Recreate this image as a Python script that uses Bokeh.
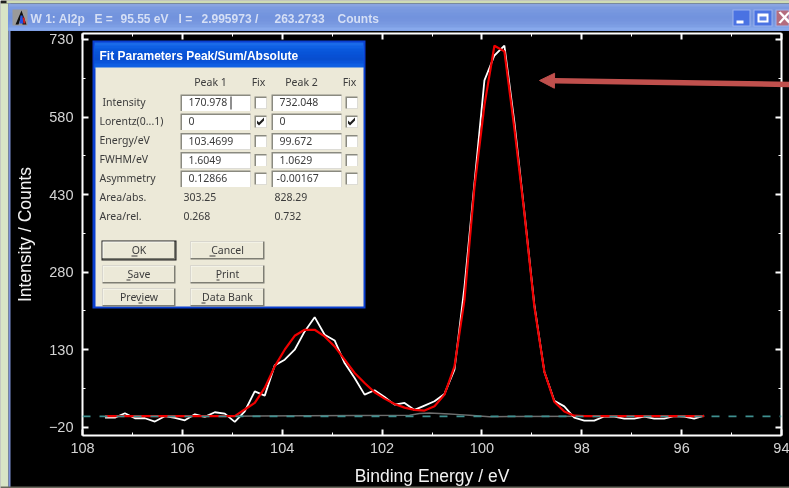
from bokeh.embed import file_html
from bokeh.resources import INLINE
from bokeh.plotting import figure
from bokeh.models import (Range1d, LinearAxis, FixedTicker, BoxAnnotation, Label,
                          PolyAnnotation, Arrow, NormalHead, Span)

# ---------- data ----------
energy = [round(107.55 - 0.2 * i, 2) for i in range(61)]
measured = [-1.7, -1.7, 6.7, -3, -3, -9.4, 1, -2.3, -6.9, 4.7, -0.4, 8.6, 6, -10, 10.5, 49.1,
            40.8, 99.3, 110.3, 129.6, 165, 192.6, 158.5, 147.6, 103.8, 74.9, 42.7, 51.1, 38.2,
            23.4, 26.6, 13.1, 21.5, 29.8, 44, 91, 251, 452, 651, 699, 718, 570, 396, 216, 87,
            31, 20, -2, -7.5, -7.5, 0.3, 0.3, -3.6, -3.6, 0.3, -3.6, -3.6, 1, 0.3, -3.6, 2]
fit = [1, 1, 1, 1, 1, 1, 1, 1, 1, 1, 1, 1, 1, 1, 14, 26.6, 55.6, 97.4, 129.6, 156.6, 168.2, 168.2,
       155.3, 136, 110.3, 84.5, 65.2, 47.2, 35, 24.7, 17.6, 13.1, 11.8, 20.2, 42.7, 97.4, 226,
       444, 603, 718, 707, 558, 394, 213, 87, 29, 10, 2, 1, 1, 1, 1, 1, 1, 1, 1, 1, 1, 1, 1, 1]
bg_x = [105.05, 101.45, 101.25, 101.05, 100.85, 100.65, 100.45, 100.25, 99.85, 97.75]
bg_y = [1, 3, 6, 7, 6, 5, 4, 3, 0, 1]
x_major = [108, 106, 104, 102, 100, 98, 96, 94]
x_minor = [107, 105, 103, 101, 99, 97, 95]
y_major = [-20, 130, 280, 430, 580, 730]
y_minor = [55, 205, 355, 505, 655]
x_title = "Binding Energy / eV"
y_title = "Intensity / Counts"

SANS = "Liberation Sans"
UI = "Noto Sans"

p = figure(width=789, height=488, output_backend="svg", toolbar_location=None,
           x_range=Range1d(108, 94), y_range=Range1d(-36.4, 741.6),
           min_border_left=82, min_border_right=8, min_border_top=33, min_border_bottom=52,
           background_fill_color="black", border_fill_color="black", outline_line_color=None)
p.styles = {"position": "fixed", "left": "0px", "top": "0px", "z-index": "1"}
p.grid.visible = False


def style_axis(ax, ticks, minor, labels=True):
    ax.ticker = FixedTicker(ticks=ticks, minor_ticks=minor)
    ax.axis_line_color = "white"
    ax.axis_line_width = 2
    ax.major_tick_line_color = "white"
    ax.minor_tick_line_color = "white"
    ax.major_tick_line_width = 2
    ax.minor_tick_line_width = 1
    ax.major_tick_in = 6
    ax.major_tick_out = 0
    ax.minor_tick_in = 3
    ax.minor_tick_out = 0
    if labels:
        ax.major_label_text_color = "#d4d4d4"
        ax.major_label_text_font = SANS
        ax.major_label_text_font_size = "14.5px"
    else:
        ax.major_label_overrides = {t: "" for t in ticks}
        ax.major_label_standoff = 0


style_axis(p.xaxis[0], x_major, x_minor)
style_axis(p.yaxis[0], y_major, y_minor)
p.xaxis[0].major_label_standoff = 7
p.yaxis[0].major_label_standoff = 9
p.xaxis[0].axis_label = x_title
p.yaxis[0].axis_label = y_title
for ax in (p.xaxis[0], p.yaxis[0]):
    ax.axis_label_text_color = "#f2f2f2"
    ax.axis_label_text_font = SANS
    ax.axis_label_text_font_size = "17.5px"
    ax.axis_label_text_font_style = "normal"
p.xaxis[0].axis_label_standoff = 10
p.yaxis[0].axis_label_standoff = 11
top = LinearAxis()
style_axis(top, x_major, x_minor, labels=False)
right = LinearAxis()
style_axis(right, y_major, y_minor, labels=False)
p.add_layout(top, "above")
p.add_layout(right, "right")

p.add_layout(Span(location=0.5, dimension="width", line_color="#3f9090", line_width=1.8, line_dash="8 9"))
p.line(bg_x, bg_y, line_color="#6e6e6e", line_width=1.5)
p.line(energy, measured, line_color="white", line_width=1.8)
p.line(energy, fit, line_color="#f00000", line_width=2.2)

# ---------- window and dialog furniture, on a transparent layer the size of the page ----------
o = figure(width=789, height=488, output_backend="svg", toolbar_location=None,
           x_range=Range1d(0, 789), y_range=Range1d(488, 0), min_border=0,
           x_axis_location=None, y_axis_location=None,
           background_fill_color=None, border_fill_color=None, outline_line_color=None)
o.styles = {"position": "fixed", "left": "0px", "top": "0px", "z-index": "5"}
o.grid.visible = False


def box(x0, y0, x1, y1, color):
    o.add_layout(BoxAnnotation(left=x0, right=x1, top=y0, bottom=y1, left_units="canvas",
                               right_units="canvas", top_units="canvas", bottom_units="canvas",
                               fill_color=color, fill_alpha=1, line_color=None))


def text(x, y, s, color="#3c3c3c", size="10.5px", font=UI, align="left", style="normal"):
    o.add_layout(Label(x=x, y=y - 1 if font == UI else y, x_units="canvas", y_units="canvas", text=s,
                       text_color=color, text_font=font, text_font_size=size, text_font_style=style,
                       text_align=align, text_baseline="middle"))


def poly(xs, ys, color):
    o.add_layout(PolyAnnotation(xs=xs, ys=ys, xs_units="canvas", ys_units="canvas",
                                fill_color=color, fill_alpha=1, line_color=None))


# outer window
box(0, 0, 789, 3, "#cfdcb4")
box(0, 0, 6, 3, "#202020")
box(0, 3, 8, 488, "#d8e4c6")
box(8, 3, 10, 488, "#7f94da")
for i, c in enumerate(["#8aa4e0", "#7d9be0", "#7898df", "#7495de", "#7293dd", "#7494de", "#7898e0", "#7d9ee4", "#88a9ec"]):
    box(8, 3 + i * 3, 789, 30, c)
box(0, 486, 789, 488, "#68685c")

# title bar icon and text
box(12, 9, 27, 25, "#9a9a9a")
poly([15, 21, 26, 22, 21, 18], [24, 10, 24, 24, 15, 24], "#101010")
poly([20, 22, 23, 19], [15, 15, 23, 23], "#2050e0")
poly([22, 24, 25, 23], [17, 17, 23, 23], "#d02020")
for x, s in [(30, "W 1: Al2p"), (94, "E ="), (120, "95.55 eV"), (178, "I ="), (201, "2.995973 /"),
             (274, "263.2733"), (337, "Counts")]:
    text(x, 18, s, color="#d5dff5", size="12px", font=SANS, style="bold")

# window buttons
for x0, x1, c in [(732, 750, "#4a72e2"), (753, 772, "#4a72e2"), (775, 789, "#b46c7e")]:
    box(x0, 9, x1, 26, "#9db4ee")
    box(x0 + 1, 10, x1 - 1, 25, c)
box(736, 20, 743, 23, "white")
box(757, 13, 768, 22, "white")
box(759, 16, 766, 20, "#5a80e6")
poly([778, 780, 789, 789, 787], [12, 11, 20, 23, 22], "white")
poly([778, 787, 789, 789, 780], [22, 12, 11, 13, 23], "white")

# arrow
o.add_layout(Arrow(x_start=789, y_start=84, x_end=539, y_end=80, start_units="canvas", end_units="canvas",
                   line_color="#c0504d", line_width=5.5,
                   end=NormalHead(size=15, fill_color="#c0504d", line_color="#c0504d", line_width=1)))

# dialog
box(92, 40, 365, 308, "#0a3fd0")
for i, c in enumerate(["#1a6ae8", "#0f60e4", "#0a58dc", "#0854d8", "#0850d4", "#084ecf", "#0a54da", "#0f5ee2", "#1264e6"]):
    box(94, 42 + i * 3, 363, 68, c)
box(95, 67, 363, 306, "#ece9d8")
text(99, 55, "Fit Parameters Peak/Sum/Absolute", color="white", size="12px", font=SANS, style="bold")

for x, s in [(210, "Peak 1"), (258, "Fix"), (301, "Peak 2"), (349, "Fix")]:
    text(x, 82.5, s, align="center")

rows_y = [102, 121, 140.5, 159.5, 178]
row_names = ["Intensity", "Lorentz(0...1)", "Energy/eV", "FWHM/eV", "Asymmetry"]
peak1_vals = ["170.978", "0", "103.4699", "1.6049", "0.12866"]
peak2_vals = ["732.048", "0", "99.672", "1.0629", "-0.00167"]
for y, name, v1, v2 in zip(rows_y, row_names, peak1_vals, peak2_vals):
    text(102 if name == "Intensity" else 99, y, name)
    for x0, val, xt in ((180, v1, 188), (271, v2, 276 if v2.startswith("-") else 279)):
        box(x0, y - 8, x0 + 70, y + 8.5, "#8a8a80")
        box(x0 + 1.5, y - 6.5, x0 + 70, y + 8.5, "white")
        text(xt, y + 0.5, val)
    for x0 in (254, 345):
        box(x0, y - 6, x0 + 12, y + 6, "#8a8a80")
        box(x0 + 1.5, y - 4.5, x0 + 12, y + 6, "white")
box(230, 96, 231, 109, "#202020")
for x0 in (254, 345):
    poly([x0 + 2.5, x0 + 4.5, x0 + 9.5, x0 + 9.5, x0 + 4.5, x0 + 2.5],
         [120, 122, 117, 120, 125, 123], "#202020")

for y, name, v1, v2 in [(197, "Area/abs.", "303.25", "828.29"), (216, "Area/rel.", "0.268", "0.732")]:
    text(99, y, name)
    text(183, y, v1)
    text(274, y, v2)


def button(x0, y0, x1, y1, s, ul, default=False):
    if default:
        box(x0 - 1, y0 - 1, x1 + 1, y1 + 1, "#1c1c1c")
    box(x0, y0, x1, y1, "#7e7e74")
    box(x0, y0, x1 - 1.5, y1 - 1.5, "#fbfaf5")
    box(x0 + 1, y0 + 1, x1 - 1.5, y1 - 1.5, "#ece9d8")
    text((x0 + x1) / 2, (y0 + y1) / 2, s, align="center")
    box(ul[0], y1 - 4, ul[1], y1 - 3, "#3c3c3c")


button(102, 241, 175, 259, "OK", (131, 137), default=True)
button(190, 241, 264, 259, "Cancel", (209, 215))
button(102, 265, 175, 283, "Save", (126, 130))
button(190, 265, 264, 283, "Print", (216, 219))
button(102, 288, 175, 306, "Preview", (138, 142))
button(190, 288, 264, 306, "Data Bank", (201, 205))

open("out.html", "w").write(file_html((p, o), INLINE))
